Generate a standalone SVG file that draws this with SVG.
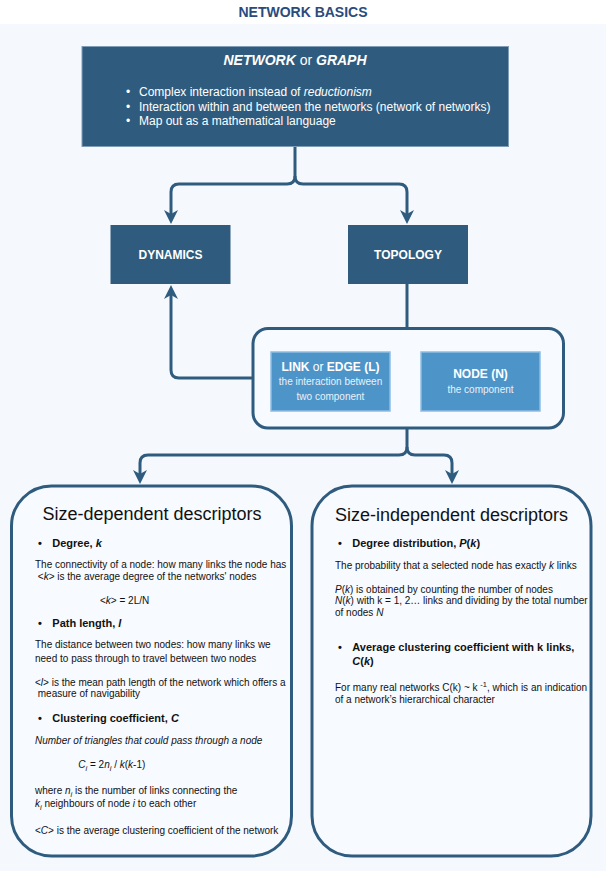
<svg xmlns="http://www.w3.org/2000/svg" width="608" height="871" viewBox="0 0 608 871">
<defs>
<style>
text{font-family:"Liberation Sans",Arial,Helvetica,sans-serif}
.dk{fill:#2f5c7e}
.lt{fill:#4d94c9;stroke:#8fbde2;stroke-width:1.5}
.frame{fill:#f7faff;stroke:#2f5c7e;stroke-width:3}
.ln{fill:none;stroke:#2f5c7e;stroke-width:3}
.w{fill:#ffffff}
.ws{fill:#e9f1f9;font-size:10px}
.bt{font-size:10px;fill:#111111}
.hd{font-size:11px;font-weight:bold;fill:#111111}
.big{font-size:18px;fill:#111111}
.i{font-style:italic}
.b{font-weight:bold}
</style>
<marker id="arr" viewBox="0 0 14 14" refX="4" refY="7" markerWidth="14" markerHeight="14" markerUnits="userSpaceOnUse" orient="auto">
<path d="M0,0 L14,7 L0,14 L4,7 z" fill="#2f5c7e"/>
</marker>
</defs>
<rect x="0" y="0" width="608" height="871" fill="#ffffff"/>
<rect x="0" y="24" width="606" height="847" fill="#f5f9fe"/>
<g id="title"><text x="303" y="17" text-anchor="middle" font-size="14" font-weight="bold" fill="#2a4b7c">NETWORK BASICS</text></g>

<g id="connectors">
<path class="ln" d="M295,147 V176 Q295,184 287,184 H179 Q171,184 171,192 V214" marker-end="url(#arr)"/>
<path class="ln" d="M295,176 Q295,184 303,184 H399 Q407,184 407,192 V214" marker-end="url(#arr)"/>
<path class="ln" d="M407,284 V328"/>
<path class="ln" d="M253,378 H179 Q171,378 171,370 V295" marker-end="url(#arr)"/>
<path class="ln" d="M407,428 V447 Q407,455 399,455 H148 Q140,455 140,463 V474" marker-end="url(#arr)"/>
<path class="ln" d="M407,447 Q407,455 415,455 H444 Q452,455 452,463 V474" marker-end="url(#arr)"/>
</g>

<g id="network">
<rect x="82" y="46.5" width="426.5" height="100" class="dk" stroke="#7f9db7" stroke-width="1"/>
<text x="295" y="65" text-anchor="middle" font-size="14" class="w"><tspan class="b i">NETWORK</tspan> or <tspan class="b i">GRAPH</tspan></text>
<g font-size="12" class="w">
<text x="128" y="96" text-anchor="middle">•</text>
<text x="139" y="96">Complex interaction instead of <tspan class="i">reductionism</tspan></text>
<text x="128" y="110.5" text-anchor="middle">•</text>
<text x="139" y="110.5">Interaction within and between the networks (network of networks)</text>
<text x="128" y="124.5" text-anchor="middle">•</text>
<text x="139" y="124.5">Map out as a mathematical language</text>
</g>
</g>

<g id="dynamics">
<rect x="110.5" y="225" width="120" height="59" class="dk"/>
<text x="170.5" y="258.5" text-anchor="middle" font-size="12" font-weight="bold" class="w">DYNAMICS</text>
</g>
<g id="topology">
<rect x="348" y="225" width="120" height="59" class="dk"/>
<text x="408" y="258.5" text-anchor="middle" font-size="12" font-weight="bold" class="w">TOPOLOGY</text>
</g>

<g id="components">
<rect x="253" y="328.5" width="310.5" height="99.5" rx="15" class="frame"/>
</g>
<g id="link">
<rect x="271" y="352" width="119" height="59" class="lt"/>
<text x="330.5" y="371" text-anchor="middle" font-size="12" class="w"><tspan class="b">LINK</tspan> or <tspan class="b">EDGE (L)</tspan></text>
<text x="330.5" y="385" text-anchor="middle" class="ws">the interaction between</text>
<text x="330.5" y="400" text-anchor="middle" class="ws">two component</text>
</g>
<g id="node">
<rect x="421" y="352" width="119" height="59" class="lt"/>
<text x="480.5" y="378" text-anchor="middle" font-size="12" font-weight="bold" class="w">NODE (N)</text>
<text x="480.5" y="393" text-anchor="middle" class="ws">the component</text>
</g>

<g id="size-dependent">
<rect x="11.5" y="486" width="280" height="370" rx="40" class="frame"/>
<text x="152" y="520" text-anchor="middle" class="big">Size-dependent descriptors</text>
<text x="40" y="546.7" text-anchor="middle" class="hd">•</text>
<text x="52.3" y="546.7" class="hd">Degree, <tspan class="i">k</tspan></text>
<text x="35" y="568.3" class="bt">The connectivity of a node: how many links the node has</text>
<text x="35" y="580" class="bt" xml:space="preserve"> &lt;<tspan class="i">k</tspan>&gt; is the average degree of the networks' nodes</text>
<text x="100" y="604" class="bt">&lt;<tspan class="i">k</tspan>&gt; = 2L/N</text>
<text x="40" y="627.3" text-anchor="middle" class="hd">•</text>
<text x="52.3" y="627.3" class="hd">Path length, <tspan class="i">l</tspan></text>
<text x="35" y="648.3" class="bt">The distance between two nodes: how many links we</text>
<text x="35" y="661.7" class="bt">need to pass through to travel between two nodes</text>
<text x="35" y="686" class="bt">&lt;<tspan class="i">l</tspan>&gt; is the mean path length of the network which offers a</text>
<text x="35" y="697.3" class="bt" xml:space="preserve"> measure of navigability</text>
<text x="40" y="721.7" text-anchor="middle" class="hd">•</text>
<text x="52.3" y="721.7" class="hd">Clustering coefficient, <tspan class="i">C</tspan></text>
<text x="35" y="744" class="bt i">Number of triangles that could pass through a node</text>
<text x="78.3" y="768.3" class="bt"><tspan class="i">C</tspan><tspan class="i" font-size="7.5" dy="3">i</tspan><tspan dy="-3"> = 2</tspan><tspan class="i">n</tspan><tspan class="i" font-size="7.5" dy="3">i</tspan><tspan dy="-3"> / </tspan><tspan class="i">k</tspan>(<tspan class="i">k</tspan>-1)</text>
<text x="35" y="794.3" class="bt">where <tspan class="i">n</tspan><tspan class="i" font-size="7.5" dy="3">i</tspan><tspan dy="-3"> is the number of links connecting the</tspan></text>
<text x="35" y="807.3" class="bt"><tspan class="i">k</tspan><tspan class="i" font-size="7.5" dy="3">i</tspan><tspan dy="-3"> neighbours of node </tspan><tspan class="i">i</tspan> to each other</text>
<text x="35" y="834.3" class="bt">&lt;<tspan class="i">C</tspan>&gt; is the average clustering coefficient of the network</text>
</g>

<g id="size-independent">
<rect x="312" y="486" width="279" height="370" rx="40" class="frame"/>
<text x="451.5" y="520.5" text-anchor="middle" class="big">Size-independent descriptors</text>
<text x="340" y="546.7" text-anchor="middle" class="hd">•</text>
<text x="352.3" y="546.7" class="hd">Degree distribution, <tspan class="i">P</tspan>(<tspan class="i">k</tspan>)</text>
<text x="335" y="569" class="bt">The probability that a selected node has exactly <tspan class="i">k</tspan> links</text>
<text x="335" y="592.7" class="bt"><tspan class="i">P</tspan>(<tspan class="i">k</tspan>) is obtained by counting the number of nodes</text>
<text x="335" y="604.3" class="bt"><tspan class="i">N</tspan>(<tspan class="i">k</tspan>) with k = 1, 2… links and dividing by the total number</text>
<text x="335" y="615.7" class="bt">of nodes <tspan class="i">N</tspan></text>
<text x="340" y="650.5" text-anchor="middle" class="hd">•</text>
<text x="352.3" y="650.5" class="hd">Average clustering coefficient with k links,</text>
<text x="352.3" y="665" class="hd"><tspan class="i">C</tspan>(<tspan class="i">k</tspan>)</text>
<text x="335" y="691" class="bt">For many real networks C(k) ~ k <tspan font-size="7.5" dy="-4">-1</tspan><tspan dy="4">, which is an indication</tspan></text>
<text x="335" y="703" class="bt">of a network’s hierarchical character</text>
</g>
</svg>
